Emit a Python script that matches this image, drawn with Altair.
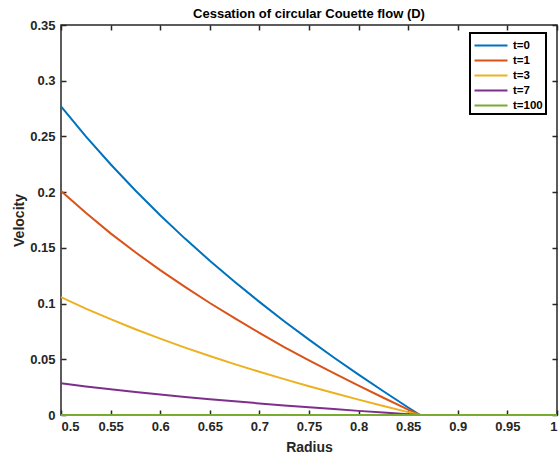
import altair as alt
import pandas as pd

# ---- data ----
radius = [0.5, 0.525, 0.55, 0.575, 0.6, 0.625, 0.65, 0.675, 0.7, 0.725,
          0.75, 0.775, 0.8, 0.825, 0.85, 0.862]
v_t0 = [0.277, 0.250, 0.225, 0.2015, 0.1793, 0.1583, 0.1385, 0.1196, 0.1015,
        0.0842, 0.0676, 0.0516, 0.0362, 0.0213, 0.0067, 0.0]
v_t1 = [0.201, 0.1815, 0.163, 0.146, 0.130, 0.115, 0.1005, 0.087, 0.0737,
        0.061, 0.049, 0.0375, 0.0263, 0.0155, 0.0049, 0.0]
v_t3 = [0.1058, 0.0955, 0.086, 0.077, 0.0685, 0.0605, 0.053, 0.0457, 0.0388,
        0.0322, 0.0258, 0.0197, 0.0138, 0.0081, 0.0026, 0.0]
v_t7 = [0.0284, 0.0256, 0.0231, 0.0207, 0.0184, 0.0162, 0.0142, 0.0123,
        0.0104, 0.0086, 0.0069, 0.0053, 0.0037, 0.0022, 0.0007, 0.0]
radius_t100 = [0.5, 1.0]
v_t100 = [0.0, 0.0]

series_names = ["t=0", "t=1", "t=3", "t=7", "t=100"]
colors = ["#0072BD", "#D95319", "#EDB120", "#7E2F8E", "#77AC30"]

x_ticks = [0.5, 0.55, 0.6, 0.65, 0.7, 0.75, 0.8, 0.85, 0.9, 0.95, 1.0]
y_ticks = [0, 0.05, 0.1, 0.15, 0.2, 0.25, 0.3, 0.35]

rows = []
for name, vals in zip(series_names[:4], [v_t0, v_t1, v_t3, v_t7]):
    for r, v in zip(radius, vals):
        rows.append({"r": r, "v": v, "series": name})
for r, v in zip(radius_t100, v_t100):
    rows.append({"r": r, "v": v, "series": "t=100"})
df = pd.DataFrame(rows)

ink = "#262626"
font = "Liberation Sans"

xscale = alt.Scale(domain=[0.5, 1.0], nice=False, zero=False)
yscale = alt.Scale(domain=[0, 0.35], nice=False, zero=False)

common_axis = dict(domain=False, grid=False, tickSize=5, tickWidth=1.5,
                   tickColor=ink, offset=-5)

lines = alt.Chart(df).mark_line(strokeWidth=2).encode(
    x=alt.X("r:Q", scale=xscale,
            axis=alt.Axis(orient="bottom", values=x_ticks, format=".2~f",
                          title="Radius", labelPadding=5, titlePadding=7,
                          **common_axis)),
    y=alt.Y("v:Q", scale=yscale,
            axis=alt.Axis(orient="left", values=y_ticks, format=".2~f",
                          title="Velocity", labelPadding=6, titlePadding=3,
                          **common_axis)),
    color=alt.Color("series:N",
                    scale=alt.Scale(domain=series_names, range=colors),
                    legend=alt.Legend(title=None, orient="none",
                                      legendX=409, legendY=8)),
)

frame = alt.Chart(df).mark_line(opacity=0).encode(
    x=alt.X("r:Q", scale=xscale,
            axis=alt.Axis(orient="top", values=x_ticks, labels=False,
                          title=None, **common_axis)),
    y=alt.Y("v:Q", scale=yscale,
            axis=alt.Axis(orient="right", values=y_ticks, labels=False,
                          title=None, **common_axis)),
)

chart = alt.layer(lines, frame).resolve_axis(
    x="independent", y="independent"
).properties(
    width=496, height=390,
    title="Cessation of circular Couette flow (D)",
    autosize=alt.AutoSizeParams(type="none"),
    padding={"left": 61, "top": 25, "right": 2, "bottom": 41},
).configure_view(
    stroke=ink, strokeWidth=1.5
).configure_axis(
    labelFont=font, labelFontSize=13, labelFontWeight="bold", labelColor=ink,
    titleFont=font, titleFontSize=14, titleFontWeight="bold", titleColor=ink,
).configure_title(
    font=font, fontSize=13, fontWeight="bold", color="#000000",
    anchor="middle", offset=-2,
).configure_legend(
    labelFont=font, labelFontSize=11.5, labelFontWeight="bold",
    labelColor="#000000", symbolType="M-2,0L2,0", symbolSize=272,
    symbolStrokeWidth=2, symbolOffset=8.5, labelOffset=12.5, padding=3,
    rowPadding=0, strokeColor="#000000", strokeWidth=2, fillColor="#ffffff",
)

chart.save("out.html", embed_options={"renderer": "svg", "actions": False})
